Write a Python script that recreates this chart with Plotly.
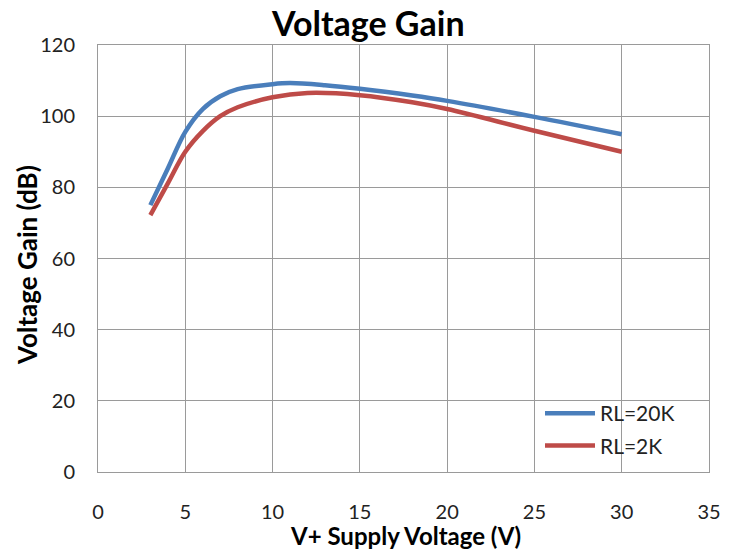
import plotly.graph_objects as go

supply_v_20k = [3, 4, 5, 6, 7, 8, 10, 11, 13, 15, 18, 20, 25, 30]
gain_20k = [75, 85.3, 95.6, 102.0, 105.6, 107.6, 109.0, 109.3, 108.7, 107.7, 105.8, 104.3, 99.8, 94.9]
supply_v_2k = [3, 4, 5, 6, 7, 8, 10, 12, 15, 18, 20, 25, 30]
gain_2k = [72.2, 81.1, 90.0, 95.8, 100.0, 102.5, 105.3, 106.5, 105.9, 103.9, 102.0, 95.9, 90.0]

series_names = ["RL=20K", "RL=2K"]
colors = ["#4A7EBB", "#BE4B48"]

x_ticks = [0, 5, 10, 15, 20, 25, 30, 35]
y_ticks = [0, 20, 40, 60, 80, 100, 120]

FONT = "Lato"

fig = go.Figure()
for name, xs, ys, c in zip(series_names, [supply_v_20k, supply_v_2k], [gain_20k, gain_2k], colors):
    fig.add_trace(go.Scatter(x=xs, y=ys, mode="lines", name=name, legendgroup=name,
                             line=dict(color=c, width=4.5, shape="spline", smoothing=1.0)))

L, R, T, B = 98, 26, 45, 81
W, H = 735, 553
PW, PH = W - L - R, H - T - B

def px(xp):
    return (xp - L) / PW

def py(yp):
    return (H - B - yp) / PH

grid = "#9a9a9a"
fig.update_layout(
    width=W, height=H,
    margin=dict(l=L, r=R, t=T, b=B, autoexpand=False),
    paper_bgcolor="white", plot_bgcolor="white",
    font=dict(family=FONT, size=20, color="#222"),
    showlegend=True,
    legend=dict(x=px(540), y=py(393), xanchor="left", yanchor="top",
                bgcolor="rgba(0,0,0,0)", font=dict(size=21, color="#222"),
                itemwidth=50, tracegroupgap=2),
    xaxis=dict(range=[0, 35], tickvals=x_ticks, showgrid=True, gridcolor=grid,
               gridwidth=1, zeroline=False, showline=True, linecolor=grid,
               mirror=True, ticks="", ticklabelstandoff=22, fixedrange=True, automargin=False),
    yaxis=dict(range=[0, 120], tickvals=y_ticks, showgrid=True, gridcolor=grid,
               gridwidth=1, zeroline=False, showline=True, linecolor=grid,
               mirror=True, ticks="", ticklabelstandoff=18, fixedrange=True, automargin=False),
    shapes=[
        dict(type="rect", xref="paper", yref="paper", x0=px(534), x1=px(685),
             y0=py(465), y1=py(397), fillcolor="white", line=dict(width=0), layer="between"),
    ],
    annotations=[
        dict(text="<b>Voltage Gain</b>", x=px(368), y=py(0), xref="paper", yref="paper",
             xanchor="center", yanchor="top", showarrow=False,
             font=dict(size=34, color="#000")),
        dict(text="<b>V+ Supply Voltage (V)</b>", x=px(405), y=py(535), xref="paper", yref="paper",
             xanchor="center", yanchor="middle", showarrow=False,
             font=dict(size=24, color="#000")),
        dict(text="<b>Voltage Gain (dB)</b>", x=px(27), y=py(265), xref="paper", yref="paper",
             xanchor="center", yanchor="middle", textangle=-90, showarrow=False,
             font=dict(size=26, color="#000")),
    ],
)

fig.write_html("out.html", config={"displayModeBar": False},
               post_script="document.body.style.margin='0';")
